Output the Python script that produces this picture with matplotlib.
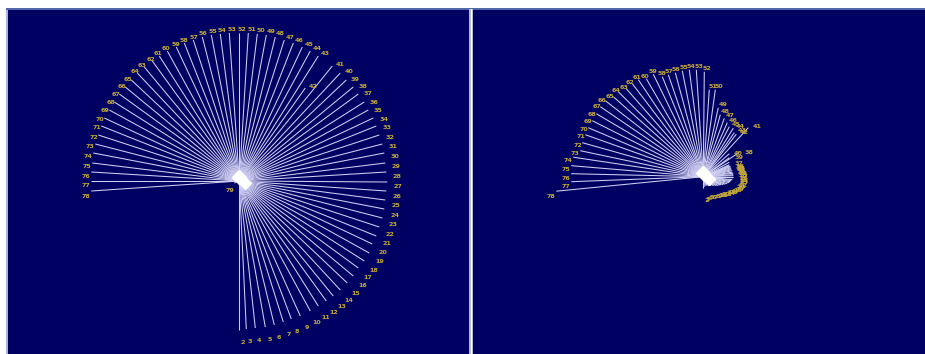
import matplotlib
matplotlib.use('Agg')
import matplotlib.pyplot as plt
import numpy as np
from matplotlib.patches import Rectangle

# node ids and layout positions (pixels from the hub, y up)
left_ids = list(range(2, 80))
left_x = [0, 7, 16, 26, 35, 44, 52, 61, 71, 79, 87, 94, 101, 108, 114, 119, 125, 130, 133, 137,
          140, 143, 145, 146, 147, 148, 147, 146, 145, 143, 140, 137, 134, 129, 125, 119, 114, 107,
          101, 93, 66, 79, 71, 63, 54, 45, 36, 27, 18, 9, 0, -10, -19, -28, -37, -46, -55, -63,
          -72, -80, -87, -95, -102, -108, -114, -120, -125, -130, -135, -138, -141, -144, -146,
          -147, -148, -148, -148, -5]
left_y = [-149, -148, -147, -146, -144, -141, -138, -135, -130, -125, -120, -115, -109, -102, -95,
          -87, -80, -72, -63, -55, -46, -37, -28, -19, -10, -1, 9, 18, 28, 37, 46, 55, 63, 71, 79,
          87, 94, 101, 108, 115, 93, 125, 130, 134, 138, 141, 144, 146, 147, 148, 148, 148, 147,
          146, 144, 141, 138, 134, 130, 125, 120, 114, 108, 101, 94, 87, 79, 71, 63, 55, 46, 37,
          28, 18, 9, 0, -10, -2]

right_ids = list(range(2, 79))
right_x = [0, 1, 2, 3, 4, 5.5, 7, 8, 10, 11, 13, 15, 17, 18, 20, 22, 24, 26, 27, 28, 29, 30, 30,
           30, 30, 30, 29, 29, 28, 28, 27.5, 27, 27, 26, 26, 26, 36, 26, 26, 45, 33, 31, 30, 26,
           24, 21, 17, 15, 12, 6, 1, -7, -14, -21, -28, -35, -41, -50, -57, -65, -71, -77, -85,
           -90, -98, -103, -107, -111, -115, -118, -121, -123, -130, -132, -132, -132, -147]
right_y = [-11, -10, -9, -9, -9, -9, -9, -9, -9, -9, -9, -9, -8.5, -8, -8, -7.5, -7, -6, -5, -4,
           -3, -1, 0, 1, 2, 3.5, 4.5, 6, 7, 8, 9, 10, 10.5, 11, 12, 14.5, 24.5, 19, 23, 49, 42.5,
           44, 48.5, 50, 54, 58.5, 62, 69, 87, 87, 105, 107, 107, 106, 104, 102, 100, 102.5, 98,
           97, 93, 88, 85, 80, 76, 70, 63, 56, 49, 42, 34, 26, 19.5, 11, 3, -5, -14.5]

W, H = 925, 354
NAVY = '#000062'
EDGE = '#d0d0f4'
LABEL = '#c4a836'

fig = plt.figure(figsize=(W / 100, H / 100), dpi=100, facecolor='white')


def panel(x0, x1, hub_x, hub_y, top=9):
    ax = fig.add_axes([x0 / W, 0, (x1 - x0) / W, (H - top) / H])
    ax.set_facecolor(NAVY)
    ax.set_xlim(x0 - hub_x, x1 - hub_x)
    ax.set_ylim(-(H - hub_y), hub_y - top)
    ax.set_xticks([])
    ax.set_yticks([])
    for s in ax.spines.values():
        s.set_visible(False)
    return ax


def draw_star(ax, ids, xs, ys):
    for n, x, y in zip(ids, xs, ys):
        ax.plot([0, x], [0, y], color=EDGE, lw=0.75, solid_capstyle='butt')
    for n, x, y in zip(ids, xs, ys):
        r = np.hypot(x, y) or 1.0
        ux, uy = x / r, y / r
        ax.annotate(str(n), (x, y), xytext=(8 * ux + 3, 8 * uy - 4.7),
                    textcoords='offset pixels', ha='center', va='center',
                    fontsize=4.6, color=LABEL, fontweight='bold')
    # bright hub where all edges meet
    ax.plot([0], [4], marker='D', ms=7, color='white', mec='white')
    ax.plot([6], [-2], marker='D', ms=6, color='white', mec='white')


ax1 = panel(7, 469, 239.3, 181)
draw_star(ax1, left_ids, left_x, left_y)

ax2 = panel(473, 925, 703.3, 176.7)
draw_star(ax2, right_ids, right_x, right_y)

# frame lines and divider between the panels
fig.add_artist(Rectangle((6 / W, 0), 1.5 / W, (H - 9) / H, transform=fig.transFigure,
                         color='#a8b4d8', lw=0))
fig.add_artist(Rectangle((6 / W, (H - 9.5) / H), (W - 6) / W, 1 / H, transform=fig.transFigure,
                         color='#5068a8', lw=0))
fig.add_artist(Rectangle((469 / W, 0), 4 / W, (H - 9) / H, transform=fig.transFigure,
                         color='#b8bcc8', lw=0))
fig.add_artist(Rectangle((470.5 / W, 0), 1 / W, (H - 9) / H, transform=fig.transFigure,
                         color='white', lw=0))

fig.savefig('out.png', dpi=100, facecolor='white')
